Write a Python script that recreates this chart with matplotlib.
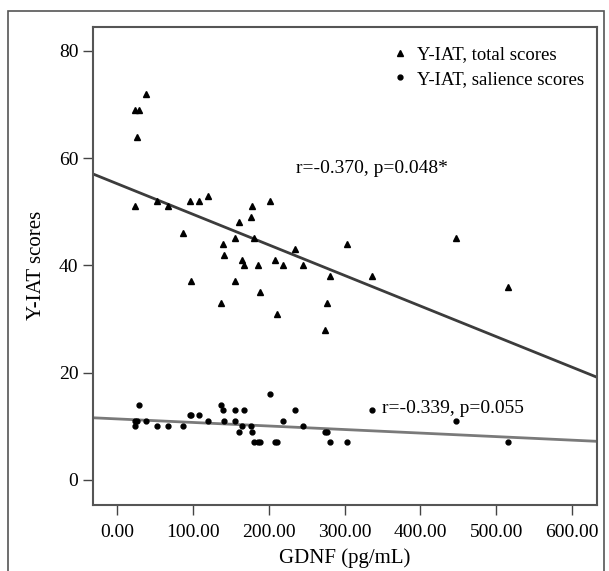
import matplotlib.pyplot as plt
from matplotlib.patches import Rectangle

# GDNF (pg/mL) for each subject, with the two Y-IAT scores
gdnf = [23, 23, 25.5, 29, 38.5, 53, 67, 87, 96, 97, 108, 120, 136.5, 139, 141,
        155, 155, 161, 164, 167, 176, 177.5, 181, 185.5, 188.5, 201.5, 207.5,
        211, 218.5, 234, 244.5, 274.5, 277, 280.5, 302.5, 336.5, 446.5, 515]
total_scores = [51, 69, 64, 69, 72, 52, 51, 46, 52, 37, 52, 53, 33, 44, 42,
                45, 37, 48, 41, 40, 49, 51, 45, 40, 35, 52, 41,
                31, 40, 43, 40, 28, 33, 38, 44, 38, 45, 36]
salience_scores = [10, 11, 11, 14, 11, 10, 10, 10, 12, 12, 12, 11, 14, 13, 11,
                   13, 11, 9, 10, 13, 10, 9, 7, 7, 7, 16, 7,
                   7, 11, 13, 10, 9, 9, 7, 7, 13, 11, 7]

# fitted lines (intercept, slope)
total_fit = (55.2, -0.057)
salience_fit = (11.35, -0.0066)

xticks = [0, 100, 200, 300, 400, 500, 600]
yticks = [0, 20, 40, 60, 80]

plt.rcParams['font.family'] = ['Liberation Serif', 'DejaVu Serif']

fig = plt.figure(figsize=(6.09, 5.71), dpi=100)
ax = fig.add_axes([0.1527, 0.1156, 0.8276, 0.8378])

xlim = (-32, 633)
for (b0, b1), col in [(total_fit, '#3c3c3c'), (salience_fit, '#7a7a7a')]:
    ax.plot(xlim, [b0 + b1 * x for x in xlim], color=col, lw=2, zorder=1)

ax.plot(gdnf, total_scores, '^', color='black', ms=5, ls='none',
        label='Y-IAT, total scores', zorder=3)
ax.plot(gdnf, salience_scores, 'o', color='black', ms=3.5, ls='none',
        label='Y-IAT, salience scores', zorder=3)

ax.text(236, 58, 'r=-0.370, p=0.048*', fontsize=14, va='center', ha='left')
ax.text(349, 13.3, 'r=-0.339, p=0.055', fontsize=14, va='center', ha='left')

ax.set_xlim(*xlim)
ax.set_ylim(-4.7, 84.5)
ax.set_xticks(xticks)
ax.set_xticklabels(['%.2f' % v for v in xticks])
ax.set_yticks(yticks)
ax.tick_params(labelsize=14, length=7, width=1, color='#444444', direction='out')
ax.tick_params(axis='x', pad=7)
for s in ax.spines.values():
    s.set_color('#555555')
    s.set_linewidth(1.5)

ax.set_xlabel('GDNF (pg/mL)', fontsize=15, labelpad=5)
ax.set_ylabel('Y-IAT scores', fontsize=15, labelpad=9)

leg = ax.legend(loc='upper right', bbox_to_anchor=(1.0, 0.987), frameon=False,
                fontsize=13.5, handlelength=0.6, handletextpad=0.6,
                labelspacing=0.4, borderaxespad=0.3)

# outer frame around the whole figure
fig.patches.append(Rectangle((8 / 609, -0.02), 596 / 609, 1.02 - 11 / 571,
                             transform=fig.transFigure, fill=False,
                             edgecolor='#555555', lw=1.2))

fig.savefig('out.png', dpi=100)
